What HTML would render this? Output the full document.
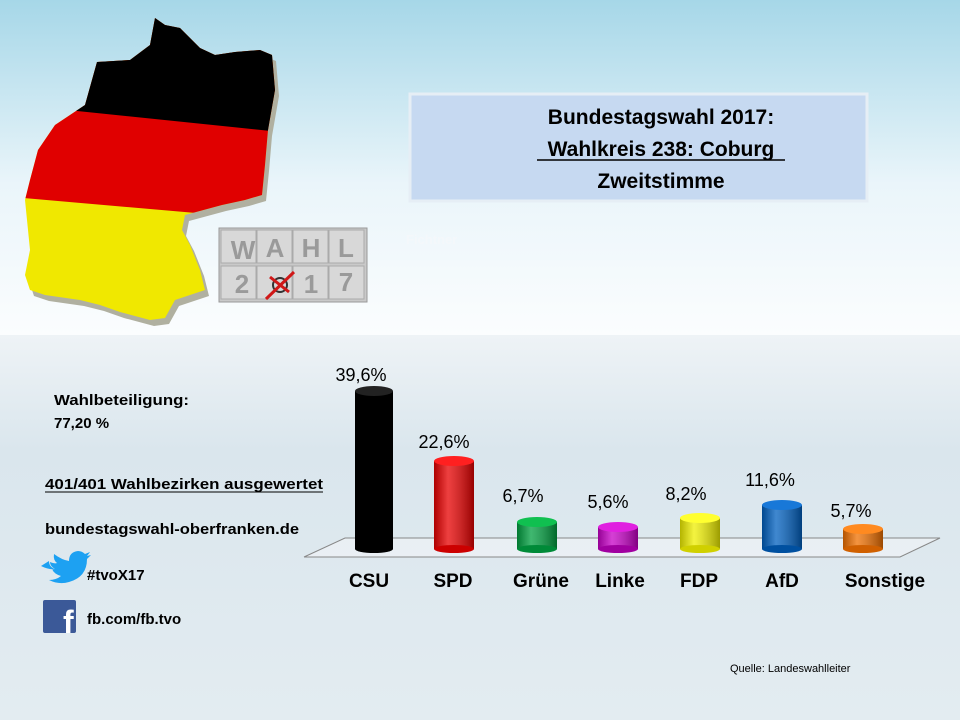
<!DOCTYPE html>
<html><head><meta charset="utf-8"><style>
body{margin:0;width:960px;height:720px;overflow:hidden;font-family:"Liberation Sans",sans-serif;}
svg{display:block}
</style></head><body>
<svg width="960" height="720" viewBox="0 0 960 720" xmlns="http://www.w3.org/2000/svg">
<defs>
<linearGradient id="sky" x1="0" y1="0" x2="0" y2="1">
<stop offset="0" stop-color="#a6d7e8"/><stop offset="0.55" stop-color="#eaf5fa"/><stop offset="1" stop-color="#fbfdfe"/>
</linearGradient>
<linearGradient id="floor" x1="0" y1="0" x2="0" y2="1">
<stop offset="0" stop-color="#eef3f6"/><stop offset="0.3" stop-color="#dae6ed"/><stop offset="1" stop-color="#e3ecf1"/>
</linearGradient>
<clipPath id="de"><polygon points="155,18 165,25 180,28 200,48 215,55 235,52 260,50 272,55 275,90 268,130 265,165 262,195 245,200 222,205 185,215 182,230 190,245 200,270 205,290 175,300 165,318 150,320 120,312 100,305 80,300 45,295 30,290 25,275 30,250 25,200 30,180 38,150 55,125 85,105 97,62 130,60 150,45"/></clipPath>
<linearGradient id="cyl" x1="0" y1="0" x2="1" y2="0">
<stop offset="0" stop-color="#000" stop-opacity="0.25"/><stop offset="0.35" stop-color="#fff" stop-opacity="0.25"/><stop offset="1" stop-color="#000" stop-opacity="0.35"/>
</linearGradient>
</defs>
<rect width="960" height="335" fill="url(#sky)"/>
<rect y="335" width="960" height="385" fill="url(#floor)"/>
<g transform="translate(4,6)"><polygon points="155,18 165,25 180,28 200,48 215,55 235,52 260,50 272,55 275,90 268,130 265,165 262,195 245,200 222,205 185,215 182,230 190,245 200,270 205,290 175,300 165,318 150,320 120,312 100,305 80,300 45,295 30,290 25,275 30,250 25,200 30,180 38,150 55,125 85,105 97,62 130,60 150,45" fill="#b0b0a0"/></g>
<g clip-path="url(#de)">
<rect x="0" y="0" width="300" height="330" fill="#f0e800"/>
<polygon points="0,0 300,0 300,222 0,196" fill="#e00000"/>
<polygon points="0,0 300,0 300,134 0,103" fill="#000"/>
</g>
<g font-family="Liberation Sans" font-weight="bold" font-size="26" fill="#9a9a9a" text-anchor="middle">
<rect x="219" y="228" width="148" height="74" fill="#c9c9c9" stroke="#999"/>
<g stroke="#aaa" fill="#d8d8d8"><rect x="221" y="230" width="35" height="33"/><rect x="257" y="230" width="35" height="33"/><rect x="293" y="230" width="35" height="33"/><rect x="329" y="230" width="35" height="33"/>
<rect x="221" y="266" width="35" height="33"/><rect x="257" y="266" width="35" height="33"/><rect x="293" y="266" width="35" height="33"/><rect x="329" y="266" width="35" height="33"/></g>
<text x="243" y="259">W</text><text x="275" y="257">A</text><text x="311" y="257">H</text><text x="346" y="257">L</text>
<text x="242" y="293">2</text><text x="311" y="293">1</text><text x="346" y="291">7</text>
<circle cx="280" cy="285" r="7" fill="none" stroke="#333" stroke-width="2"/>
<path d="M266 299 L294 272 M270 277 L289 292" stroke="#d01818" stroke-width="3"/>
</g>
<rect x="410" y="94" width="457" height="107" fill="#c6d9f1" stroke="#e6eef5" stroke-width="3"/>
<g font-weight="bold" font-size="21" text-anchor="middle" fill="#000">
<text x="661" y="124">Bundestagswahl 2017:</text>
<text x="661" y="156">Wahlkreis 238: Coburg</text>
<line x1="537" y1="160" x2="785" y2="160" stroke="#000" stroke-width="1.5"/>
<text x="661" y="188">Zweitstimme</text>
</g>
<text x="406" y="244" font-size="13" font-weight="bold" fill="#f4f8fb">Fichtner</text>
<polyline points="304,557 900,557 940,538 345,538 304,557" fill="#f1f4f6" fill-opacity="0.6" stroke="#888" stroke-width="1"/>
<g>
<g><rect x="355" y="391" width="38" height="158" fill="#000"/><ellipse cx="374" cy="549" rx="19" ry="4" fill="#000"/><ellipse cx="374" cy="391" rx="19" ry="5" fill="#222"/></g>
<g><rect x="434" y="461" width="40" height="88" fill="#e80000"/><rect x="434" y="461" width="40" height="88" fill="url(#cyl)"/><ellipse cx="454" cy="549" rx="20" ry="4" fill="#c00"/><ellipse cx="454" cy="461" rx="20" ry="5" fill="#ff2020"/></g>
<g><rect x="517" y="522" width="40" height="27" fill="#00a040"/><rect x="517" y="522" width="40" height="27" fill="url(#cyl)"/><ellipse cx="537" cy="549" rx="20" ry="4" fill="#008a38"/><ellipse cx="537" cy="522" rx="20" ry="5" fill="#10c050"/></g>
<g><rect x="598" y="527" width="40" height="22" fill="#c800c8"/><rect x="598" y="527" width="40" height="22" fill="url(#cyl)"/><ellipse cx="618" cy="549" rx="20" ry="4" fill="#a000a0"/><ellipse cx="618" cy="527" rx="20" ry="5" fill="#e020e0"/></g>
<g><rect x="680" y="518" width="40" height="31" fill="#f0f000"/><rect x="680" y="518" width="40" height="31" fill="url(#cyl)"/><ellipse cx="700" cy="549" rx="20" ry="4" fill="#d0d000"/><ellipse cx="700" cy="518" rx="20" ry="5" fill="#ffff30"/></g>
<g><rect x="762" y="505" width="40" height="44" fill="#0060c0"/><rect x="762" y="505" width="40" height="44" fill="url(#cyl)"/><ellipse cx="782" cy="549" rx="20" ry="4" fill="#0050a0"/><ellipse cx="782" cy="505" rx="20" ry="5" fill="#1878d8"/></g>
<g><rect x="843" y="529" width="40" height="20" fill="#f07000"/><rect x="843" y="529" width="40" height="20" fill="url(#cyl)"/><ellipse cx="863" cy="549" rx="20" ry="4" fill="#d06000"/><ellipse cx="863" cy="529" rx="20" ry="5" fill="#ff8a20"/></g>
</g>
<g font-size="18" text-anchor="middle" fill="#000">
<text x="361" y="381">39,6%</text><text x="444" y="448">22,6%</text><text x="523" y="502">6,7%</text>
<text x="608" y="508">5,6%</text><text x="686" y="500">8,2%</text><text x="770" y="486">11,6%</text><text x="851" y="517">5,7%</text>
</g>
<g font-size="19" font-weight="bold" text-anchor="middle" fill="#000">
<text x="369" y="587">CSU</text><text x="453" y="587">SPD</text><text x="541" y="587">Grüne</text>
<text x="620" y="587">Linke</text><text x="699" y="587">FDP</text><text x="782" y="587">AfD</text><text x="885" y="587">Sonstige</text>
</g>
<g font-size="15" font-weight="bold" fill="#000">
<text x="54" y="405" textLength="135" lengthAdjust="spacingAndGlyphs">Wahlbeteiligung:</text>
<text x="54" y="428">77,20 %</text>
<text x="45" y="489" textLength="278" lengthAdjust="spacingAndGlyphs">401/401 Wahlbezirken ausgewertet</text>
<line x1="45" y1="492" x2="323" y2="492" stroke="#000" stroke-width="1"/>
<text x="45" y="534" textLength="254" lengthAdjust="spacingAndGlyphs">bundestagswahl-oberfranken.de</text>
<text x="87" y="580">#tvoX17</text>
<text x="87" y="624">fb.com/fb.tvo</text>
</g>
<path d="M41 566 q8 4 14 3 q-5 -3 -5 -7 q5 2 7 1 q-4 -3 -3 -9 q8 6 15 7 q0 -9 9 -10 q4 0 7 3 l5 -2 l-3 4 l4 -1 l-4 4 q0 18 -18 23 q-10 3 -20 -2 q7 0 12 -4 q-7 -2 -9 -7 l3 0 q-6 -2 -6 -8 z" fill="#1da1f2"/>
<rect x="43" y="600" width="33" height="33" rx="2" fill="#3b5998"/>
<text x="63" y="633" font-size="32" font-weight="bold" fill="#fff" font-family="Liberation Sans">f</text>
<text x="730" y="672" font-size="11" fill="#000">Quelle: Landeswahlleiter</text>
</svg>
</body></html>
